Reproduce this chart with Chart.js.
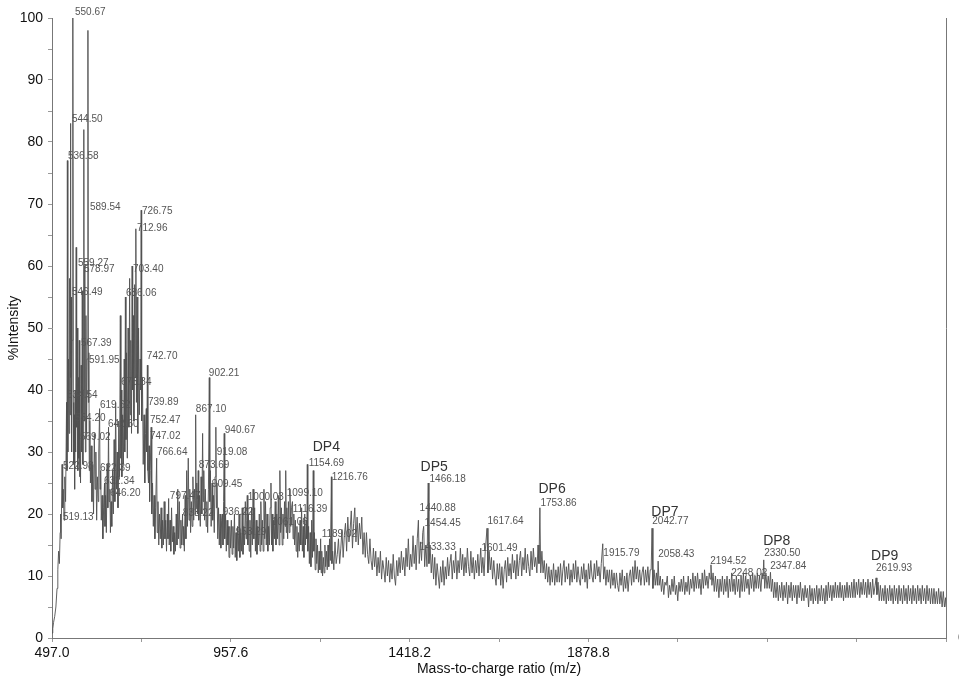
<!DOCTYPE html>
<html>
<head>
<meta charset="utf-8">
<script src="https://cdn.jsdelivr.net/npm/chart.js@4.4.1/dist/chart.umd.min.js"></script>
<style>
  html, body { margin: 0; padding: 0; background: #fff; }
  #wrap { width: 959px; height: 682px; }
</style>
</head>
<body>
<div id="wrap"><canvas id="spectrumChart"></canvas></div>
<script>
// Mass spectrum: [m/z, % intensity] pairs, region by region
const clusterRegion = [
  [497,0.8],[499,1.5],[501,2.5],[504,3.5],[507,5],[510,8],[512,11],[514,14],[516,12],[518,17],[519.13,20],[520.5,16],
  [522.98,28],[524.5,21],[526,24],[528,19],[530,26],[532,22],[534.54,38],[535.5,27],[536.58,77],[537.8,30],[539.5,45],
  [541,33],[542.5,58],[543.5,36],[544.5,83],[545.5,42],[546.49,55],[547.5,30],[549,48],[550.67,100],[552,38],[553,28],
  [554.2,36],[555.3,24],[556.5,40],[557.8,30],[559.27,63],[560.5,34],[562,50],[563.5,27],[565,42],[566,29],[567.39,48],
  [568.2,26],[569.02,32],[570.5,25],[572,44],[573.5,30],[575,56],[576.5,28],[577.8,40],[578.97,82],[580,35],[581.5,60],
  [583,30],[584.5,52],[586,33],[587.5,45],[589.54,98],[590.7,38],[591.95,46],[593,27],[594.5,35],[596,25],[598,31],
  [600,22],[602,28],[604,20],[606,33],[608,24],[610,30],[612,19],[614,26],[616,22],[617.5,30],[619.62,37],[620.8,24],
  [622.39,27],[624,19],[626,23],[628,16],[630,21],[632.34,25],[633.5,18],[635,23],[637,17],[639,28],[640.8,21],
  [642.6,34],[644,22],[646.2,24],[647.5,17],[649,22],[651,18],[653,27],[655,20],[657,32],[659,22],[661,38],[663,24],
  [665,30],[667,21],[669,35],[671,26],[673,52],[674.5,29],[675.84,40],[677,26],[679,36],[681,28],[683,45],[684.5,30],
  [686.06,55],[687.5,32],[689,46],[691,29],[693,50],[695,34],[697,58],[698.5,36],[700,48],[701.8,33],[703.4,60],
  [704.8,40],[706.5,52],[708,35],[710,57],[711.5,42],[712.96,66],[714.5,38],[716,55],[718,33],[720,50],[722,36],
  [724,45],[725.5,40],[726.75,69],[728,35],[730,42],[732,28],[734,36],[736,25],[738,33],[739.89,37],[741,30],
  [742.7,44],[744,27],[745.5,25],[747.02,31],[748.5,22],[750,27],[752.47,34],[754,20],[756,25],[758,18],[760,23],
  [762,16],[764,21],[766.64,29],[768,17]
];

const midRegion = [
  [770,22],[772,15],[774,20],[776,16],[778,21],[780,14.5],[782,19],[784,15],[786,22],[788,16],[790,19],[792,14],
  [794,20],[795.8,16],[797.47,22.5],[799,15],[801,19],[803,14],[805,21],[807,15.5],[809,18],[811,13.5],[813,17],
  [815,14],[817,20],[819,15],[821,24],[823,16],[825,22],[827,14.5],[829,19],[831,15],[833.22,20],[834.5,15],[836,18],
  [838,14],[840,23],[842,16],[844,27],[846,18],[848,29],[850,19],[852,24],[854,17],[856,22],[858,18],[860,26],
  [862,19],[864,24],[865.7,20],[867.1,36],[868.5,21],[870,25],[872,20],[873.69,27],[875,19],[877,23],[879,18],
  [881,26],[883,20],[885,33],[886.5,22],[888,27],[890,19],[892,24],[894,18],[896,22],[898,17],[900,24],[902.21,42],
  [903.5,22],[905,27],[907,18],[909.45,25],[911,19],[913,23],[915,17],[917,26],[919.08,34],[920.5,21],[922,25],
  [924,16],[926,21],[928,15],[930,20],[932,14.5],[934,19],[936.22,20],[937.5,15],[939,22],[940.67,33],[942,16],
  [944,20],[946,14],[948,19],[950,15],[951.3,18],[953,13],[955,18],[957,14.5],[959,19],[961,13.5],[963,18],
  [965,14.5],[967,20],[969,13],[971,17],[973,12.5],[975,18],[977,14],[979,20],[981,13],[983,17],[985,14],[987,21],
  [989,13.5],[991,18],[993,15],[995,22],[997,16],[998.5,19],[1000.03,23],[1001.5,15],[1003,20],[1005,14],[1007,19],
  [1009,13],[1011,21],[1013,15],[1015,24],[1017,16],[1019,21],[1021,14],[1023,19],[1025,13.5],[1027,18],[1029,15],
  [1031,20],[1033,14],[1035,22],[1037,15],[1039,19],[1041,14],[1043,24],[1045,16],[1047,22],[1049,15],[1051,20],
  [1053,14],[1055,18],[1057,15],[1059,21],[1061.06,25],[1062.5,15],[1064,20],[1066,14],[1068,19],[1070,16],
  [1072,22],[1074,15],[1076,20],[1078,16],[1080,23],[1082,15],[1084,27],[1086,17],[1088,21],[1090,15],[1092,20],
  [1094,16],[1096,22],[1097.6,18],[1099.1,27],[1100.5,17],[1102,21],[1104,16],[1106,22],[1108,17],[1110,24],
  [1112,18],[1114,21],[1116.39,22],[1118,16],[1120,20],[1122,15],[1124,19],[1126,14],[1128,18],[1130,13],[1132,17],
  [1134,14],[1136,19],[1138,15],[1140,21],[1142,14],[1144,18],[1146,13],[1148,20],[1150,15],[1152,19],[1153.3,16],
  [1154.69,28],[1156,14],[1158,18],[1160,12],[1162,17],[1164,11.5],[1166,19],[1168,13],[1170,27],[1171.5,14],
  [1173,17],[1175,11],[1177,16],[1179,12],[1181,15],[1183,10.5],[1185,14],[1187,11],[1189.02,16],[1190.5,10.5],
  [1192,14],[1194,10],[1196,13],[1198,10.5],[1200,15],[1202,11.5],[1204,14],[1206,11],[1208,15],[1210,11.5],
  [1212,16],[1214,12.5],[1216.76,26],[1218,12]
];

const humpRegion = [
  [1220,14],[1223,11],[1226,15.5],[1229,12],[1232,13.5],[1235,16],[1238,12],[1241,14.5],[1244,17.5],[1247,13],
  [1250,16.5],[1253,18.5],[1256,14],[1259,19.5],[1262,15.5],[1265,17.5],[1268,20.5],[1271,14.5],[1274,18.5],[1277,21],
  [1280,15.5],[1283,19.5],[1286,15],[1289,18.5],[1292,16],[1295,19.5],[1298,13.5],[1301,17],[1304,13],[1307,17],
  [1310,13.5],[1313,12],[1316,16],[1319,12.5],[1322,11],[1325,14.5],[1328,11.5],[1331,14],[1334,10],[1337,13],
  [1340,10.5],[1343,14],[1346,9.5],[1349,12.5],[1352,11],[1355,9],[1358,13],[1361,10],[1364,12.5],[1367,9],
  [1370,12],[1373,9.5],[1376,13.5],[1379,10],[1382,8.5],[1385,12.5],[1388,10],[1391,13],[1394,10.5],[1397,14],
  [1400,11],[1403,13],[1406,10],[1409,14.5],[1412,11.5],[1415,16],[1418,11],[1421,13.5],[1424,11.5],[1427,16.5],
  [1430,12],[1433.33,15],[1435,11],[1438,16],[1440.88,19],[1443,12],[1446,15.5],[1449,12.5],[1452,17],
  [1454.45,18],[1457,11.5],[1460,15],[1463,11.5],[1466.18,25],[1468,12],[1471,15],[1474,10.5],[1477,13.5],[1480,9.5],
  [1483,13],[1486,8.5],[1489,12],[1492,10],[1495,8],[1498,11.5],[1501,9],[1504,12.5],[1507,8.5],[1510,11.5],
  [1513,9.5],[1516,13],[1519,10],[1522,12],[1525,13.5],[1528,9.5],[1531,12.5],[1534,10.5],[1537,14],[1540,9.5],
  [1543,12.5],[1546,10.5],[1549,14.5],[1552,11],[1555,13.5],[1558,10],[1561,13],[1564,10.5],[1567,14.5],[1570,11.5],
  [1573,10],[1576,14],[1579,10.5],[1582,13],[1585,9.5],[1588,12.5],[1591,10.5],[1594,13.5],[1597,10],[1601.49,14.5],
  [1604,10.5],[1607,13],[1610,10],[1613,14],[1617.64,17.7],[1620,10.5],[1623,14],[1626,11],[1629,13],
  [1632,9.5],[1635,12.5],[1638,10],[1641,8.5],[1644,12],[1647,9.5],[1650,12],[1653,8.5],[1656,11.5],[1659,8],
  [1662,11],[1665,12.5],[1668,9],[1671,13],[1674,10],[1677,12],[1680,9.5],[1683,13.5],[1686,10.5],[1689,12.5],
  [1692,9.5],[1695,13.5],[1698,10],[1701,12.5],[1704,14],[1707,10],[1710,13],[1713,11],[1716,14.5],[1719,10.5],
  [1722,13.5],[1725,11.5],[1728,10],[1731,14],[1734,11],[1737,14.5],[1740,11.5],[1743,13],[1746,10.5],[1749,15],
  [1751.5,12],[1753.86,21],[1756,10.5],[1759,14],[1762,10.5],[1765,12.5],[1768,9.5],[1771,12],[1774,9],[1777,11.5],
  [1780,8.5],[1783,11],[1786,9],[1789,12],[1792,8.5],[1795,11],[1798,9]
];

const tailRegion = [
  [1801,11.5],[1804,9],[1807,12],[1810,8.5],[1813,11],[1816,12.5],[1819,9],[1822,11.5],[1825,9.5],[1828,12],
  [1831,8.5],[1834,11],[1837,9],[1840,12],[1843,9.5],[1846,12.5],[1849,9],[1852,11.5],[1855,9.5],[1858,8.5],
  [1861,11.5],[1864,9.5],[1867,12],[1870,9],[1873,11],[1876,8],[1879,12],[1882,9.5],[1885,12.5],[1888,10],
  [1891,9],[1894,12],[1897,9.5],[1900,12.5],[1903,10],[1906,11.5],[1909,9],[1912,12],[1915.79,15.2],[1918,9.5],
  [1921,11.5],[1924,8.5],[1927,11],[1930,9],[1933,11],[1936,8],[1939,11],[1942,8.5],[1945,10.5],[1948,8],
  [1951,10.5],[1954,8.5],[1957,7.5],[1960,10.5],[1963,8.5],[1966,11],[1969,7.5],[1972,10],[1975,8],[1978,10.5],
  [1981,7.5],[1984,10],[1987,11],[1990,8.5],[1993,11.5],[1996,9],[1999,12.5],[2002,9.5],[2005,11.5],[2008,9],
  [2011,11],[2014,8.5],[2017,10.5],[2020,11.5],[2023,8.5],[2026,11],[2029,9],[2032,11.5],[2035,8.5],[2038,11],
  [2040.5,11],[2042.77,17.7],[2045,8],[2048,11],[2051,8.5],[2054,10.5],[2056.5,8.5],[2058.43,12.4],
  [2061,8.5],[2064,10],[2067,7.5],[2070,9.5],[2073,7],[2076,9],[2079,8.5],[2082,10],[2085,6.5],[2088,8.5],
  [2091,7],[2094,9.5],[2097,7.5],[2100,10],[2103,7],[2106,8.5],[2109,6],[2112,9],[2115,7.5],[2118,9.5],[2121,7.5],
  [2124,10],[2127,7],[2130,9],[2133,7.5],[2136,10],[2139,7],[2142,9.5],[2145,8],[2148,10.5],[2151,7.5],[2154,10],
  [2157,8],[2160,10.5],[2163,8],[2166,9.5],[2169,7],[2172,10.5],[2175,8],[2178,11],[2181,8.5],[2184,10],[2187,8],
  [2190,10.5],[2192.5,9.5],[2194.52,11.8],[2197,8.5],[2200,10.5],[2203,7.5],[2206,10],[2209,7.5],[2212,9.5],
  [2215,6.5],[2218,9.5],[2221,7.5],[2224,10],[2227,7],[2230,9.5],[2233,7.5],[2236,10],[2239,6.5],[2242,9.5],
  [2245,7.5],[2248.02,10.5],[2251,7.5],[2254,9.5],[2257,7],[2260,10],[2263,7.5],[2266,9.5],[2269,6.5],[2272,10],
  [2275,7.5],[2278,10.5],[2281,7.5],[2284,10],[2287,8],[2290,9.5],[2293,7],[2296,10],[2299,8],[2302,10.5],
  [2305,7.5],[2308,10],[2311,8],[2314,10.5],[2317,8],[2320,10],[2323,7.5],[2326,10.5],[2328.5,9.5],[2330.5,12.6],
  [2333,8],[2336,10.5],[2339,8],[2342,10],[2345,8],[2347.84,10.6],[2350,7.5],[2353,9.5],[2356,6.5],[2359,9],
  [2362,6.5],[2365,9],[2368,6],[2371,8.5],[2374,6.5],[2377,9],[2380,6],[2383,8.5],[2386,6.5],[2389,9],[2392,5.5],
  [2395,8.5],[2398,6.5],[2401,9],[2404,6],[2407,8.5],[2410,6.5],[2413,8.5],[2416,5.5],[2419,8.5],[2422,6.5],
  [2425,9],[2428,6],[2431,8],[2434,6],[2437,8.5],[2440,6.5],[2443,8],[2446,5],[2449,8.5],[2452,6],[2455,8],
  [2458,5.5],[2461,8],[2464,6],[2467,8.5],[2470,5.5],[2473,8],[2476,6],[2479,8.5],[2482,6],[2485,8],[2488,5.5],
  [2491,8.5],[2494,6],[2497,9],[2500,6.5],[2503,8.5],[2506,6],[2509,8.5],[2512,6.5],[2515,9],[2518,6.5],[2521,8.5],
  [2524,6.5],[2527,9],[2530,6.5],[2533,8.5],[2536,6],[2539,8.5],[2542,6.5],[2545,9],[2548,6.5],[2551,8.5],
  [2554,6.5],[2557,9],[2560,6.5],[2563,9.5],[2566,6.5],[2569,9],[2572,7],[2575,9.5],[2578,6.5],[2581,9],[2584,7],
  [2587,9.5],[2590,7],[2593,9],[2596,6.5],[2599,9.5],[2602,7],[2605,9],[2608,6.5],[2611,9.5],[2614,7],[2617.5,8.5],
  [2619.93,9.7],[2622,7],[2625,9],[2628,6],[2631,8.5],[2634,6],[2637,8],[2640,6],[2643,8.5],[2646,5.5],[2649,8],
  [2652,6],[2655,8.5],[2658,6],[2661,8],[2664,5.5],[2667,8.5],[2670,6],[2673,8],[2676,5.5],[2679,8.5],[2682,6],
  [2685,8],[2688,5.5],[2691,8.5],[2694,6],[2697,8],[2700,5.5],[2703,8.5],[2706,6],[2709,8],[2712,5.5],[2715,8.5],
  [2718,6],[2721,8],[2724,5.5],[2727,8.5],[2730,6],[2733,8],[2736,5.5],[2739,8.5],[2742,6],[2745,8],[2748,5.5],
  [2751,8.5],[2754,6],[2757,8],[2760,5.5],[2763,8],[2766,5.5],[2769,8],[2772,5.5],[2775,7.5],[2778,5.5],[2781,8],
  [2784,5.5],[2787,7.5],[2790,5],[2793,7.5],[2796,5],[2799,6.5],[2800,5]
];

// x axis ticks (major every 460.6, minor halfway) and their printed labels
const xTickValues = [497, 727.3, 957.6, 1187.9, 1418.2, 1648.5, 1878.8, 2109.1, 2339.4, 2569.7, 2800];
const xTickLabels = ['497.0', '', '957.6', '', '1418.2', '', '1878.8', '', '', '', ''];

// peak annotations: [m/z of text left edge, intensity of text middle, text]
const peakLabels = [
  [556.2,101,'550.67'],[548.5,83.7,'544.50'],[538.2,77.7,'536.58'],[594.8,69.4,'589.54'],[728.6,68.9,'726.75'],
  [563.9,60.5,'559.27'],[715.7,66.1,'712.96'],[579.3,59.5,'578.97'],[705.4,59.4,'703.40'],[548.5,55.8,'546.49'],
  [687.4,55.6,'686.06'],[571.6,47.6,'567.39'],[741.4,45.5,'742.70'],[592.2,44.8,'591.95'],[901,42.7,'902.21'],
  [674.5,41.3,'675.84'],[535.6,39.2,'534.54'],[744,38.1,'739.89'],[620.5,37.6,'619.62'],[867.5,36.9,'867.10'],
  [556.2,35.5,'554.20'],[749.2,35.2,'752.47'],[641.1,34.5,'642.60'],[942.1,33.5,'940.67'],[569,32.3,'569.02'],
  [749.2,32.6,'747.02'],[921.5,30,'919.08'],[767.2,30,'766.64'],[525.3,27.7,'522.98'],[620.5,27.4,'622.39'],
  [875.2,27.9,'873.69'],[1158.3,28.2,'1154.69'],[1469.6,25.6,'1466.18'],[630.8,25.3,'632.34'],[1217.4,26,'1216.76'],
  [908.7,24.8,'909.45'],[646.2,23.4,'646.20'],[800.6,22.9,'797.47'],[1001.3,22.7,'1000.03'],[1101.7,23.4,'1099.10'],
  [1755.2,21.8,'1753.86'],[1443.9,21,'1440.88'],[1117.1,20.8,'1116.39'],[937,20.3,'936.22'],[834.1,20.2,'833.22'],
  [2043.4,18.9,'2042.77'],[1618.8,18.9,'1617.64'],[525.3,19.4,'519.13'],[1063,18.7,'1061.06'],[1456.7,18.5,'1454.45'],
  [970.4,17.1,'953.29'],[1191.7,16.8,'1189.02'],[1603.4,14.4,'1601.49'],[1443.9,14.7,'1433.33'],[1917.3,13.7,'1915.79'],
  [2058.8,13.5,'2058.43'],[2331.6,13.7,'2330.50'],[2192.6,12.4,'2194.52'],[2347,11.6,'2347.84'],[2246.6,10.5,'2248.02'],
  [2619.7,11.3,'2619.93']
];
const dpLabels = [
  [1168.6,30.8,'DP4'],[1446.4,27.6,'DP5'],[1750.1,24,'DP6'],[2040.8,20.3,'DP7'],[2329,15.6,'DP8'],[2606.9,13.2,'DP9']
];

const FONT = '"Liberation Sans", Arial, Helvetica, sans-serif';

const spectrum = [...clusterRegion, ...midRegion, ...humpRegion, ...tailRegion].map(([x, y]) => ({ x, y }));

// draws the peak numbers and the DP captions on top of the trace
const labelPlugin = {
  id: 'peakLabels',
  afterDatasetsDraw(chart) {
    const { ctx, scales: { x, y } } = chart;
    ctx.save();
    ctx.textAlign = 'left';
    ctx.textBaseline = 'middle';
    ctx.font = '10px ' + FONT;
    ctx.fillStyle = '#555';
    peakLabels.forEach(([mz, v, t]) => ctx.fillText(t, x.getPixelForValue(mz), y.getPixelForValue(v)));
    ctx.font = '14px ' + FONT;
    ctx.fillStyle = '#333';
    dpLabels.forEach(([mz, v, t]) => ctx.fillText(t, x.getPixelForValue(mz), y.getPixelForValue(v)));
    ctx.restore();
  }
};

new Chart(document.getElementById('spectrumChart'), {
  type: 'line',
  data: {
    datasets: [{
      data: spectrum,
      borderColor: '#505050',
      borderWidth: 0.9,
      pointRadius: 0,
      tension: 0,
      fill: false
    }]
  },
  options: {
    responsive: true,
    maintainAspectRatio: false,
    animation: false,
    events: [],
    layout: { padding: { top: 18, left: 0, right: 0, bottom: 0 } },
    plugins: { legend: { display: false }, tooltip: { enabled: false } },
    scales: {
      x: {
        type: 'linear',
        min: 497,
        max: 2800,
        afterBuildTicks: (scale) => { scale.ticks = xTickValues.map(v => ({ value: v })); },
        afterFit: (scale) => { scale.height = 44; },
        grid: { drawOnChartArea: false, tickLength: 4, color: '#999' },
        border: { color: '#777' },
        ticks: {
          autoSkip: false,
          maxRotation: 0,
          padding: 3,
          color: '#111',
          font: { family: FONT, size: 14 },
          callback: (v, i) => xTickLabels[i]
        },
        title: {
          display: true,
          text: 'Mass-to-charge ratio (m/z)',
          color: '#111',
          font: { family: FONT, size: 14 },
          padding: { top: 0, bottom: 4 }
        }
      },
      y: {
        min: 0,
        max: 100,
        afterFit: (scale) => { scale.width = 52; },
        grid: { drawOnChartArea: false, tickLength: 4, color: '#999' },
        border: { color: '#777' },
        ticks: {
          stepSize: 5,
          padding: 5,
          color: '#111',
          font: { family: FONT, size: 14 },
          callback: (v) => (v % 10 === 0 ? v : '')
        },
        title: {
          display: true,
          text: '%Intensity',
          color: '#111',
          font: { family: FONT, size: 14 },
          padding: { top: 6, bottom: 0 }
        }
      },
      y2: {
        position: 'right',
        min: 0,
        max: 100,
        afterFit: (scale) => { scale.width = 13; },
        grid: { display: false },
        border: { display: true, color: '#777' },
        ticks: {
          stepSize: 100,
          padding: 4,
          color: '#111',
          font: { family: FONT, size: 14 },
          callback: (v) => (v === 0 ? '0' : '')
        }
      }
    }
  },
  plugins: [labelPlugin]
});
</script>
</body>
</html>
